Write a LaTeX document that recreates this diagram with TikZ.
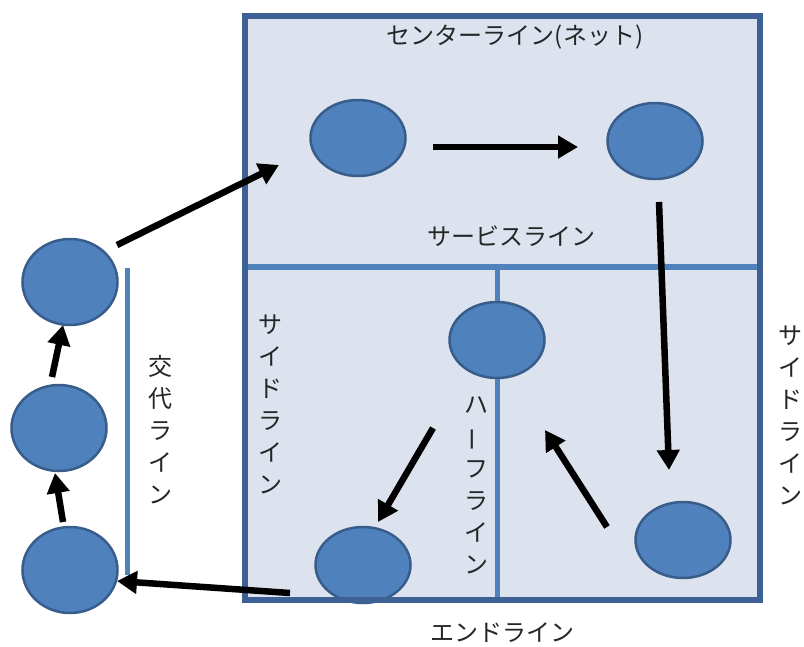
\documentclass[tikz,border=0pt]{standalone}
\usepackage{fontspec}
\newfontfamily\jpfont{Noto Sans CJK JP}
\usetikzlibrary{shapes.geometric,arrows.meta,calc}
\definecolor{courtfill}{HTML}{DCE3EF}
\definecolor{courtedge}{HTML}{3D6194}
\definecolor{lineblue}{HTML}{4F81BD}
\definecolor{playerfill}{HTML}{4F81BD}
\definecolor{playeredge}{HTML}{385D8A}
\begin{document}
\begin{tikzpicture}[x=1pt, y=-1pt,
    player/.style={ellipse, draw=playeredge, fill=playerfill, line width=2.5pt,
      minimum width=95pt, minimum height=76pt, inner sep=0pt},
    bench/.style={player, minimum height=86pt},
    move/.style={line width=6.5pt, -{Triangle[length=20pt,width=22pt]}},
    linetext/.style={font=\jpfont\fontsize{24}{32}\selectfont, inner sep=0pt, text=black!85},
    vlinetext/.style={linetext, align=center}]
  \useasboundingbox (0,0) rectangle (804,646);
  % court and lines
  \fill[courtfill] (245,16) rectangle (760,600);
  \draw[lineblue, line width=6pt] (245,267) -- (760,267);
  \draw[lineblue, line width=5pt] (497,267) -- (497,600);
  \draw[lineblue, line width=5pt] (127,268) -- (127,575);
  % players
  \node[player] (p1) at (358,138) {};
  \node[player] (p2) at (655,141) {};
  \node[player] (p3) at (683,540) {};
  \node[player] (p4) at (497,340) {};
  \node[player] (p5) at (363,565) {};
  \node[bench] (p6) at (70,570) {};
  \node[bench] (p7) at (59,428) {};
  \node[bench] (p8) at (70,282) {};
  \draw[courtedge, line width=6pt] (245,16) rectangle (760,600);
  % line names
  \node[linetext] (net) at (515,37) {センターライン(ネット)};
  \node[linetext] (service) at (511,236) {サービスライン};
  \node[linetext] (end) at (502,633) {エンドライン};
  \node[vlinetext] (sideL) at (270,404) {サ\\イ\\ド\\ラ\\イ\\ン};
  \node[vlinetext] (sideR) at (790,415) {サ\\イ\\ド\\ラ\\イ\\ン};
  \node[vlinetext] (half) at (476,485) {ハ\\\rotatebox[origin=c]{90}{ー}\\フ\\ラ\\イ\\ン};
  \node[vlinetext] (swap) at (160,430) {交\\代\\ラ\\イ\\ン};
  % rotation
  \draw[move] ($(p1)+(75,9)$) -- ($(p2)+(-77,6)$);
  \draw[move] ($(p2)+(4,61)$) -- ($(p3)+(-14,-70)$);
  \draw[move] ($(p3)+(-76,-13)$) -- ($(p4)+(48,90)$);
  \draw[move] ($(p4)+(-64,88)$) -- ($(p5)+(15,-43)$);
  \draw[move] ($(p5)+(-73,28)$) -- ($(p6)+(47,11)$);
  \draw[move] ($(p6)+(-7,-48)$) -- ($(p7)+(-4,45)$);
  \draw[move] ($(p7)+(-7,-51)$) -- ($(p8)+(-7,43)$);
  \draw[move] ($(p8)+(47,-37)$) -- ($(p1)+(-79,27)$);
\end{tikzpicture}
\end{document}
